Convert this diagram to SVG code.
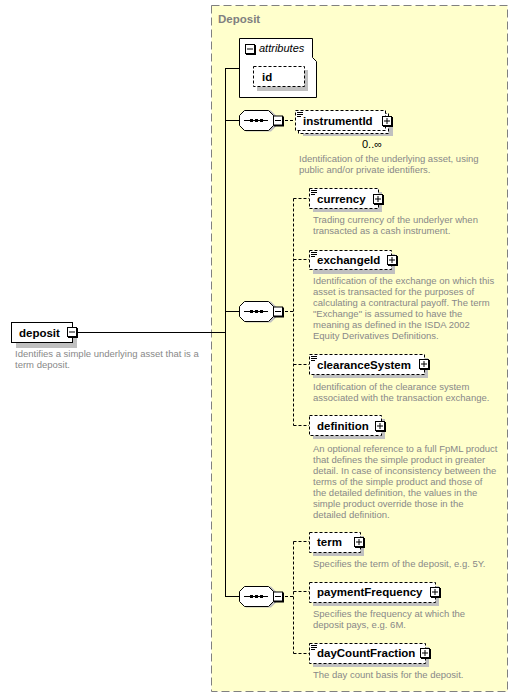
<svg xmlns="http://www.w3.org/2000/svg" width="518" height="697" viewBox="0 0 518 697">
<style>
.el{fill:#fff;stroke:#000;stroke-width:1;stroke-dasharray:3,2}
.sh{fill:#c0c0c0}
.name{font-family:"Liberation Sans",Arial,sans-serif;font-weight:bold;font-size:11.5px;fill:#000}
.doc{font-family:"Liberation Sans",Arial,sans-serif;font-size:9.5px;fill:#888}
.ln{stroke:#000;stroke-width:1;fill:none}
.dl{stroke:#000;stroke-width:1;fill:none;stroke-dasharray:3,2}
.ib{fill:#fff;stroke:#000;stroke-width:1}
</style>
<defs>
<g id="minus"><rect x="1" y="1" width="10" height="10" fill="#000"/><rect x="0.5" y="0.5" width="9" height="9" class="ib"/><line x1="2" y1="5" x2="8" y2="5" stroke="#000"/></g>
<g id="plus"><rect x="1" y="1" width="10" height="10" fill="#000"/><rect x="0.5" y="0.5" width="9" height="9" class="ib"/><line x1="2" y1="5" x2="8" y2="5" stroke="#000"/><line x1="5" y1="2" x2="5" y2="8" stroke="#000"/></g>
<g id="docicon" stroke="#000" stroke-width="1"><line x1="0" y1="0.5" x2="6" y2="0.5"/><line x1="0" y1="2.5" x2="6" y2="2.5"/><line x1="0" y1="4.5" x2="4" y2="4.5"/></g>
<g id="seq">
<polygon points="4,4 8,-6 33,-6 38,-1 38,10 33,15 8,15 4,10" class="sh" transform="translate(-1,-4)"/>
<polygon points="0.5,-5 5.5,-10 29.5,-10 34.5,-5 34.5,5 29.5,10 5.5,10 0.5,5" class="ib"/>
<line x1="5" y1="0" x2="29" y2="0" stroke="#000"/>
<rect x="11" y="-1.5" width="3" height="3" fill="#000"/><rect x="16" y="-1.5" width="3" height="3" fill="#000"/><rect x="21" y="-1.5" width="3" height="3" fill="#000"/>
<use href="#minus" x="34" y="-5"/>
</g>
</defs>

<g id="Deposit">
<rect x="211.5" y="5.5" width="296" height="686" fill="#ffffcc" stroke="#808080" stroke-dasharray="8,4"/>
<text x="218" y="23" font-family="Liberation Sans,Arial,sans-serif" font-weight="bold" font-size="11.5" fill="#808080">Deposit</text>
</g>

<g id="connectors">
<line x1="225.5" y1="68" x2="225.5" y2="597" class="ln"/>
<line x1="225" y1="68.5" x2="239" y2="68.5" class="ln"/>
<line x1="225" y1="120.5" x2="239" y2="120.5" class="ln"/>
<line x1="225" y1="311.5" x2="239" y2="311.5" class="ln"/>
<line x1="225" y1="596.5" x2="239" y2="596.5" class="ln"/>
<line x1="77" y1="332.5" x2="225" y2="332.5" class="ln"/>
<line x1="285" y1="120.5" x2="295" y2="120.5" class="dl"/>
<line x1="285" y1="311.5" x2="293.5" y2="311.5" class="dl"/>
<line x1="293.5" y1="198.5" x2="293.5" y2="425.5" class="dl"/>
<line x1="293.5" y1="198.5" x2="309" y2="198.5" class="dl"/>
<line x1="293.5" y1="259.5" x2="309" y2="259.5" class="dl"/>
<line x1="293.5" y1="364.5" x2="309" y2="364.5" class="dl"/>
<line x1="293.5" y1="425.5" x2="309" y2="425.5" class="dl"/>
<line x1="285" y1="596.5" x2="293.5" y2="596.5" class="dl"/>
<line x1="293.5" y1="541.5" x2="293.5" y2="653.5" class="dl"/>
<line x1="293.5" y1="541.5" x2="309" y2="541.5" class="dl"/>
<line x1="293.5" y1="591.5" x2="309" y2="591.5" class="dl"/>
<line x1="293.5" y1="653.5" x2="309" y2="653.5" class="dl"/>
</g>

<g id="deposit">
<rect x="16" y="327" width="61" height="21" class="sh"/>
<rect x="11.5" y="322.5" width="61" height="20" class="ib"/>
<text x="19" y="336.5" class="name">deposit</text>
<use href="#minus" x="67" y="327"/>
<text class="doc"><tspan x="15" y="357">Identifies a simple underlying asset that is a</tspan><tspan x="15" y="368">term deposit.</tspan></text>
</g>

<g id="attributes">
<polygon points="239.5,38.5 312.5,38.5 312.5,57.5 316.5,61.5 316.5,97.5 239.5,97.5" class="ib"/>
<use href="#minus" x="245" y="44"/>
<text x="259" y="52" font-family="Liberation Sans,Arial,sans-serif" font-style="italic" font-size="11" fill="#000">attributes</text>
<g id="id">
<rect x="257" y="70" width="51" height="21" class="sh"/>
<rect x="253.5" y="66.5" width="51" height="20" class="el"/>
<text x="262" y="81" class="name">id</text>
</g>
</g>

<g id="sequence1"><use href="#seq" x="239" y="120.5"/></g>
<g id="sequence2"><use href="#seq" x="239" y="311.5"/></g>
<g id="sequence3"><use href="#seq" x="239" y="596.5"/></g>

<g id="instrumentId">
<rect x="303" y="118" width="90" height="18" class="sh"/>
<rect x="298.5" y="113.5" width="90" height="20" class="el"/>
<rect x="295.5" y="110.5" width="90" height="20" class="el"/>
<use href="#docicon" x="297" y="112"/>
<text x="303" y="125" class="name">instrumentId</text>
<use href="#plus" x="382" y="116"/>
<text x="362" y="148" font-family="Liberation Sans,Arial,sans-serif" font-size="11" fill="#000">0..∞</text>
<text class="doc"><tspan x="299" y="162">Identification of the underlying asset, using</tspan><tspan x="299" y="173">public and/or private identifiers.</tspan></text>
</g>

<g id="currency">
<rect x="313" y="192" width="69" height="20" class="sh"/>
<rect x="309.5" y="188.5" width="69" height="20" class="el"/>
<use href="#docicon" x="311" y="190"/>
<text x="317" y="202.5" class="name">currency</text>
<use href="#plus" x="373" y="194"/>
<text class="doc"><tspan x="313" y="223">Trading currency of the underlyer when</tspan><tspan x="313" y="234">transacted as a cash instrument.</tspan></text>
</g>

<g id="exchangeId">
<rect x="313" y="254" width="82" height="20" class="sh"/>
<rect x="309.5" y="250.5" width="82" height="19" class="el"/>
<use href="#docicon" x="311" y="252"/>
<text x="317" y="264" class="name">exchangeId</text>
<use href="#plus" x="387" y="255"/>
<text class="doc"><tspan x="313" y="284">Identification of the exchange on which this</tspan><tspan x="313" y="295">asset is transacted for the purposes of</tspan><tspan x="313" y="306">calculating a contractural payoff. The term</tspan><tspan x="313" y="317">"Exchange" is assumed to have the</tspan><tspan x="313" y="328">meaning as defined in the ISDA 2002</tspan><tspan x="313" y="339">Equity Derivatives Definitions.</tspan></text>
</g>

<g id="clearanceSystem">
<rect x="313" y="358" width="115" height="20" class="sh"/>
<rect x="309.5" y="354.5" width="115" height="20" class="el"/>
<use href="#docicon" x="311" y="356"/>
<text x="317" y="368.5" class="name">clearanceSystem</text>
<use href="#plus" x="419" y="359"/>
<text class="doc"><tspan x="313" y="390">Identification of the clearance system</tspan><tspan x="313" y="401">associated with the transaction exchange.</tspan></text>
</g>

<g id="definition">
<rect x="313" y="419" width="72" height="20" class="sh"/>
<rect x="309.5" y="415.5" width="72" height="20" class="el"/>
<text x="317" y="429.5" class="name">definition</text>
<use href="#plus" x="375" y="421"/>
<text class="doc"><tspan x="313" y="452">An optional reference to a full FpML product</tspan><tspan x="313" y="463">that defines the simple product in greater</tspan><tspan x="313" y="474">detail. In case of inconsistency between the</tspan><tspan x="313" y="485">terms of the simple product and those of</tspan><tspan x="313" y="496">the detailed definition, the values in the</tspan><tspan x="313" y="507">simple product override those in the</tspan><tspan x="313" y="518">detailed definition.</tspan></text>
</g>

<g id="term">
<rect x="313" y="536" width="51" height="20" class="sh"/>
<rect x="309.5" y="532.5" width="51" height="20" class="el"/>
<text x="317" y="546" class="name">term</text>
<use href="#plus" x="354" y="537"/>
<text class="doc"><tspan x="313" y="567">Specifies the term of the deposit, e.g. 5Y.</tspan></text>
</g>

<g id="paymentFrequency">
<rect x="313" y="586" width="126" height="20" class="sh"/>
<rect x="309.5" y="582.5" width="126" height="20" class="el"/>
<text x="317" y="596" class="name">paymentFrequency</text>
<use href="#plus" x="430" y="587"/>
<text class="doc"><tspan x="313" y="617">Specifies the frequency at which the</tspan><tspan x="313" y="628">deposit pays, e.g. 6M.</tspan></text>
</g>

<g id="dayCountFraction">
<rect x="313" y="647" width="116" height="20" class="sh"/>
<rect x="309.5" y="643.5" width="116" height="20" class="el"/>
<use href="#docicon" x="311" y="645"/>
<text x="317" y="657" class="name">dayCountFraction</text>
<use href="#plus" x="420" y="648"/>
<text class="doc"><tspan x="313" y="678">The day count basis for the deposit.</tspan></text>
</g>
</svg>
